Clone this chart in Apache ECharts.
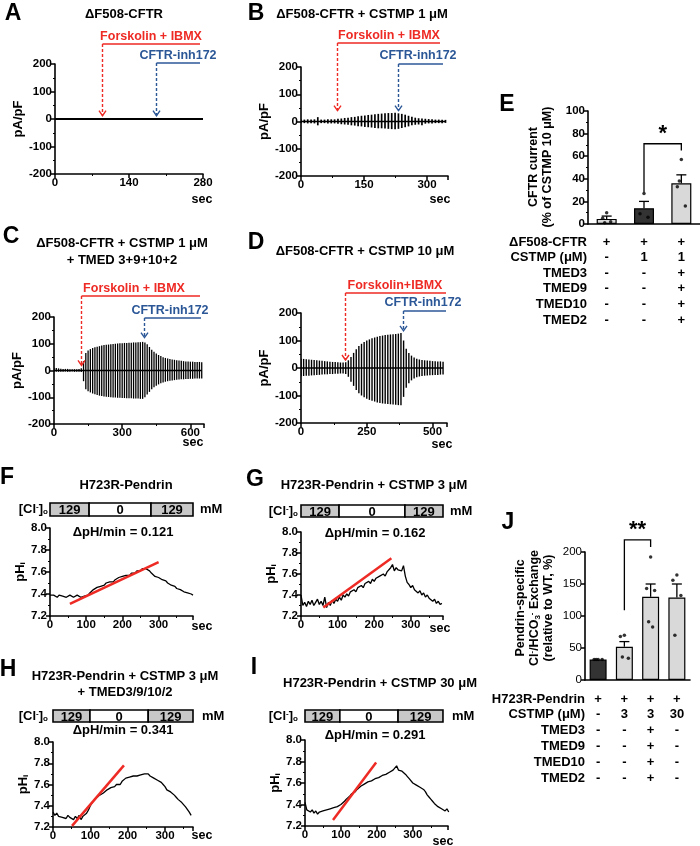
<!DOCTYPE html>
<html>
<head>
<meta charset="utf-8">
<script src="https://cdn.jsdelivr.net/npm/echarts@6.0.0/dist/echarts.min.js"></script>
<style>
html, body { margin: 0; padding: 0; background: #fff; }
#main { width: 700px; height: 846px; }
</style>
</head>
<body>
<div id="main"></div>
<script>
var FONT = '"Liberation Sans", Arial, sans-serif';
var RED = '#ee2a24';
var BLUE = '#2b5797';
var LIGHT = '#d9d9d9';
var DARK = '#333333';
var BOXGRAY = '#c8c8c8';

// ---------- patch clamp traces (A-D): one ramp pulse every step sec ----------
var traceA = [[0, 0], [280, 0]];
var eventsA = [89, 191];          // forskolin+IBMX, CFTR-inh172 (sec)

var stepB = 8;
var pulseB_pos = [7,7,8,7,8,16,7,7,8,8,8,10,11,13,14,16,17,19,21,22,24,25,27,28,29,30,31,31,32,30,28,25,21,17,14,12,11,10,9,8,7,7,6,6];
var pulseB_neg = [6,6,7,6,7,14,6,6,7,7,7,8,10,11,12,14,15,17,18,20,21,22,24,25,25,26,27,28,28,27,24,21,18,14,12,11,14,8,7,7,6,6,6,5];
var eventsB = [86, 231];

var stepC = 10;
var pulseC_pos = [10,9,8,7,6,6,6,5,5,5,5,6,8,
  35,65,75,80,84,87,89,91,93,95,96,97,98,99,100,101,102,102,103,103,104,104,105,105,106,106,107,
  105,98,88,78,70,64,58,54,50,47,45,43,41,40,38,37,36,35,34,34,33,33,32,32,32,31];
var pulseC_neg = [5,5,5,5,5,4,5,5,4,5,5,5,6,
  40,70,78,82,86,89,92,94,95,97,98,99,100,101,101,102,102,103,103,104,104,104,105,105,105,106,106,
  100,90,80,70,63,57,52,48,45,42,40,38,37,36,35,34,33,33,32,32,31,31,30,30,30,30];
var eventsC = [119, 396];

var stepD = 10;
var pulseD_pos = [34,33,32,31,30,29,28,27,26,25,24,23,22,22,21,20,20,21,
  28,40,55,68,80,88,95,100,104,108,111,114,116,118,120,121,122,123,124,125,127,
  100,70,55,45,38,34,31,29,28,27,26,25,25,24,24,23];
var pulseD_neg = [30,29,28,28,27,26,25,25,24,23,23,22,22,21,21,20,20,22,
  32,50,65,80,92,100,106,112,116,119,122,125,127,129,130,131,132,133,134,135,135,
  105,72,55,45,38,34,31,29,28,27,26,26,25,25,24,24];
var eventsD = [168, 389];

// ---------- panel E ----------
var eGroups = ['dF508', 'dF508+CSTMP1', 'dF508+CSTMP1+TMED'];
var eMeans = [4.5, 14, 36];
var eSem = [2.5, 6, 7.5];
var ePoints = [[10, 5, 2, 1], [27, 9, 6], [57, 33, 16, 38]];
var eRows = ['ΔF508-CFTR', 'CSTMP (μM)', 'TMED3', 'TMED9', 'TMED10', 'TMED2'];
var eMarks = [['+', '+', '+'], ['-', '1', '1'], ['-', '-', '+'], ['-', '-', '+'], ['-', '-', '+'], ['-', '-', '+']];

// ---------- pH traces (F-I), sampled every 5 sec ----------
var phStep = 5;
var phF = [7.39,7.38,7.39,7.38,7.37,7.39,7.38,7.38,7.39,7.37,7.38,7.39,7.38,7.37,7.38,7.39,7.38,7.37,7.38,7.38,7.38,
  7.39,7.41,7.42,7.44,7.44,7.46,7.45,7.47,7.48,7.48,7.50,7.49,7.51,7.52,7.51,7.53,7.53,7.55,7.54,7.56,7.56,7.57,7.58,7.57,7.59,7.60,7.59,7.61,7.62,7.61,7.63,7.64,7.63,
  7.62,7.61,7.59,7.58,7.56,7.56,7.55,7.54,7.53,7.52,7.52,7.50,7.50,7.48,7.47,7.47,7.45,7.45,7.44,7.44,7.42,7.42,7.41,7.40,7.40,7.39];
var phG = [7.40,7.30,7.33,7.29,7.34,7.31,7.35,7.30,7.33,7.36,7.31,7.34,7.30,7.38,7.28,7.33,7.30,7.35,7.32,7.36,
  7.34,7.38,7.35,7.40,7.38,7.41,7.39,7.43,7.42,7.45,7.43,7.47,7.46,7.49,7.47,7.51,7.50,7.53,7.51,7.55,
  7.53,7.56,7.55,7.58,7.57,7.60,7.58,7.62,7.61,7.66,7.69,7.63,7.66,7.64,7.65,7.63,7.68,7.58,7.52,7.50,
  7.47,7.49,7.45,7.46,7.42,7.44,7.40,7.42,7.38,7.40,7.37,7.38,7.34,7.36,7.32,7.34,7.31,7.32];
var phH = [7.34,7.31,7.33,7.30,7.31,7.29,7.30,7.28,7.31,7.29,7.30,7.27,7.30,7.28,7.31,7.27,7.30,7.29,7.33,7.36,
  7.40,7.43,7.44,7.47,7.48,7.50,7.51,7.52,7.53,7.55,7.55,7.57,7.58,7.58,7.60,7.61,7.60,7.63,7.64,7.66,
  7.65,7.67,7.66,7.68,7.67,7.68,7.67,7.69,7.68,7.70,7.69,7.70,7.68,7.67,7.66,7.65,7.64,7.63,7.62,7.60,
  7.58,7.55,7.54,7.53,7.52,7.50,7.48,7.46,7.45,7.43,7.42,7.39,7.38,7.34,7.31];
var phI = [7.42,7.35,7.36,7.33,7.35,7.32,7.34,7.31,7.33,7.32,7.34,7.33,7.35,7.34,7.36,7.35,7.37,7.36,7.38,7.37,
  7.40,7.41,7.43,7.45,7.46,7.48,7.50,7.51,7.52,7.54,7.55,7.57,7.58,7.59,7.60,7.61,7.61,7.62,7.63,7.64,
  7.64,7.65,7.66,7.67,7.67,7.68,7.69,7.70,7.71,7.72,7.73,7.76,7.72,7.73,7.71,7.70,7.68,7.66,7.64,7.63,
  7.60,7.59,7.58,7.57,7.56,7.55,7.54,7.52,7.49,7.47,7.45,7.43,7.41,7.40,7.38,7.37,7.36,7.35,7.34,7.36,7.33];
var fitF = [[55, 7.31], [300, 7.69]];
var fitG = [[61, 7.28], [247, 7.75]];
var fitH = [[51, 7.21], [190, 7.78]];
var fitI = [[78, 7.256], [198, 7.79]];
var rateF = '0.121', rateG = '0.162', rateH = '0.341', rateI = '0.291';
var clLevels = [129, 0, 129];
var clF = [0, 108, 279, 395];
var clG = [0, 104, 284, 388];
var clH = [0, 99, 255, 375];
var clI = [0, 97, 259, 384];

// ---------- panel J ----------
var jGroups = ['H723R', 'H723R+CSTMP3', 'H723R+CSTMP3+TMED', 'H723R+CSTMP30'];
var jMeans = [32, 52, 130, 129];
var jSem = [0, 8, 20, 21];
var jPoints = [[32, 32, 32, 32], [70, 68, 34, 36], [192, 143, 140, 91, 83], [164, 156, 132, 70]];
var jRows = ['H723R-Pendrin', 'CSTMP (μM)', 'TMED3', 'TMED9', 'TMED10', 'TMED2'];
var jMarks = [['+', '+', '+', '+'], ['-', '3', '3', '30'], ['-', '-', '+', '-'], ['-', '-', '+', '-'], ['-', '-', '+', '-'], ['-', '-', '+', '-']];

// grid boxes: A B C D E F G H I J
var boxes = [
  {left: 55, top: 64, width: 148, height: 110},
  {left: 301, top: 67, width: 147, height: 109},
  {left: 54, top: 317, width: 150, height: 107},
  {left: 301, top: 313, width: 146, height: 110},
  {left: 588, top: 111, width: 112, height: 113},
  {left: 50, top: 528, width: 143, height: 88},
  {left: 301, top: 532, width: 142, height: 84},
  {left: 53, top: 742, width: 140, height: 85},
  {left: 305, top: 740, width: 143, height: 86},
  {left: 585, top: 552, width: 105, height: 128}
];

function labelStyle(weight) {
  return {color: '#000', fontFamily: FONT, fontWeight: weight || 'bold', fontSize: 11.5, margin: 3};
}
function axisBase(g) {
  return {
    gridIndex: g,
    axisLine: {show: true, onZero: false, lineStyle: {color: '#000', width: 1.6}},
    axisTick: {show: true, length: 4, lineStyle: {color: '#000', width: 1.5}},
    splitLine: {show: false},
    axisLabel: labelStyle()
  };
}
function valueX(g, max, interval) {
  var a = axisBase(g);
  a.type = 'value'; a.min = 0; a.max = max; a.interval = interval;
  a.minorTick = {show: true, splitNumber: 2, length: 2, lineStyle: {color: '#000', width: 1}};
  a.axisLabel.showMaxLabel = (max % interval === 0);
  return a;
}
function currentY(g) {
  var a = axisBase(g);
  a.type = 'value'; a.min = -200; a.max = 200; a.interval = 100;
  a.minorTick = {show: true, splitNumber: 2, length: 2, lineStyle: {color: '#000', width: 1}};
  a.name = 'pA/pF'; a.nameLocation = 'middle'; a.nameGap = 28;
  a.nameTextStyle = {color: '#000', fontFamily: FONT, fontWeight: 'bold', fontSize: 13};
  return a;
}
function phY(g) {
  var a = axisBase(g);
  a.type = 'value'; a.min = 7.2; a.max = 8.0; a.interval = 0.2;
  a.minorTick = {show: true, splitNumber: 2, length: 2, lineStyle: {color: '#000', width: 1}};
  a.axisLabel.formatter = function (v) { return v.toFixed(1); };
  a.name = '{m|pH}{s|i}'; a.nameLocation = 'middle'; a.nameGap = 23;
  a.nameTextStyle = {color: '#000', fontFamily: FONT, fontWeight: 'bold', fontSize: 13,
    rich: {m: {fontFamily: FONT, fontWeight: 'bold', fontSize: 13},
           s: {fontFamily: FONT, fontWeight: 'bold', fontSize: 8, verticalAlign: 'bottom'}}};
  return a;
}
function catX(g, cats) {
  var a = axisBase(g);
  a.type = 'category'; a.data = cats;
  a.axisTick = {show: false}; a.axisLabel = {show: false};
  return a;
}
function barY(g, max, interval, minor, weight) {
  var a = axisBase(g);
  a.type = 'value'; a.min = 0; a.max = max; a.interval = interval;
  a.axisLabel = labelStyle(weight);
  a.minorTick = {show: minor, splitNumber: 2, length: 2, lineStyle: {color: '#000', width: 1}};
  return a;
}

function pulseSeries(g, step, pos, neg, width) {
  return {type: 'custom', xAxisIndex: g, yAxisIndex: g, clip: true,
    encode: {x: 0, y: 1},
    renderItem: function (params, api) {
      var top = api.coord([api.value(0), api.value(1)]);
      var bot = api.coord([api.value(0), -api.value(2)]);
      return {type: 'line', shape: {x1: top[0], y1: top[1], x2: bot[0], y2: bot[1]},
        style: {stroke: '#000', lineWidth: width}};
    },
    data: pos.map(function (v, i) { return [i * step, v, neg[i]]; })};
}
function lineSeries(g, data, color, width) {
  return {type: 'line', xAxisIndex: g, yAxisIndex: g, data: data, symbol: 'none', silent: true,
    lineStyle: {color: color, width: width}, z: width > 2 ? 4 : 3};
}
function phSeries(g, arr) {
  return lineSeries(g, arr.map(function (v, i) { return [i * phStep, v]; }), '#000', 1.3);
}
function errItem(params, api) {
  var i = api.value(0), m = api.value(1), s = api.value(2);
  if (!s) return null;
  var b = api.coord([i, m]), t = api.coord([i, m + s]);
  return {type: 'group', children: [
    {type: 'line', shape: {x1: b[0], y1: b[1], x2: t[0], y2: t[1]}, style: {stroke: '#000', lineWidth: 1.3}},
    {type: 'line', shape: {x1: t[0] - 5, y1: t[1], x2: t[0] + 5, y2: t[1]}, style: {stroke: '#000', lineWidth: 1.3}}
  ]};
}
function barSeries(g, means, colors, width) {
  return {type: 'bar', xAxisIndex: g, yAxisIndex: g, barWidth: width, silent: true,
    data: means.map(function (v, i) {
      return {value: v, itemStyle: {color: colors[i], borderColor: '#000', borderWidth: 1.2}};
    })};
}
function errSeries(g, means, sem) {
  return {type: 'custom', xAxisIndex: g, yAxisIndex: g, renderItem: errItem, z: 5,
    encode: {x: 0, y: 1},
    data: means.map(function (v, i) { return [i, v, sem[i]]; })};
}
var dotOffsets = [0, -4, 4, -2, 2];
function dotSeries(g, pts) {
  var d = [];
  pts.forEach(function (grp, i) {
    grp.forEach(function (v, j) {
      d.push({value: [i, v], symbolOffset: [dotOffsets[j % dotOffsets.length], 0]});
    });
  });
  return {type: 'scatter', xAxisIndex: g, yAxisIndex: g, data: d, symbolSize: 3.5, z: 6,
    itemStyle: {color: '#000'}, silent: true};
}

var chart = echarts.init(document.getElementById('main'));

chart.setOption({
  backgroundColor: '#fff',
  animation: false,
  grid: boxes,
  xAxis: [
    valueX(0, 280, 140), valueX(1, 350, 150), valueX(2, 660, 300), valueX(3, 555, 250),
    catX(4, eGroups),
    valueX(5, 395, 100), valueX(6, 388, 100), valueX(7, 375, 100), valueX(8, 398, 100),
    catX(9, jGroups)
  ],
  yAxis: [
    currentY(0), currentY(1), currentY(2), currentY(3),
    barY(4, 100, 20, true, 'bold'),
    phY(5), phY(6), phY(7), phY(8),
    barY(9, 200, 50, false, 'normal')
  ],
  series: [
    lineSeries(0, traceA, '#000', 2),
    lineSeries(1, [[0, 0], [344, 0]], '#000', 1.6),
    pulseSeries(1, stepB, pulseB_pos, pulseB_neg, 1.7),
    lineSeries(2, [[0, 0], [650, 0]], '#000', 1.5),
    pulseSeries(2, stepC, pulseC_pos, pulseC_neg, 1.3),
    lineSeries(3, [[0, 0], [540, 0]], '#000', 1.6),
    pulseSeries(3, stepD, pulseD_pos, pulseD_neg, 1.4),
    barSeries(4, eMeans, [LIGHT, DARK, LIGHT], 20),
    errSeries(4, eMeans, eSem),
    dotSeries(4, ePoints),
    phSeries(5, phF), lineSeries(5, fitF, RED, 2.5),
    phSeries(6, phG), lineSeries(6, fitG, RED, 2.5),
    phSeries(7, phH), lineSeries(7, fitH, RED, 2.5),
    phSeries(8, phI), lineSeries(8, fitI, RED, 2.5),
    barSeries(9, jMeans, [DARK, LIGHT, LIGHT, LIGHT], 17),
    errSeries(9, jMeans, jSem),
    dotSeries(9, jPoints)
  ]
});

// ---------- annotations ----------
function px(g, x, y) { return chart.convertToPixel({xAxisIndex: g, yAxisIndex: g}, [x, y]); }
function label(x, y, s, size, extra, rot) {
  var el = {type: 'text', x: x, y: y, silent: true, z: 20, style: Object.assign({
    text: s, fill: '#000', fontFamily: FONT, fontWeight: 'bold', fontSize: size || 12,
    align: 'center', verticalAlign: 'middle'
  }, extra || {})};
  if (rot) el.rotation = rot;
  return el;
}
function eventArrow(g, t, tipV, lineY, lineEndX, color, s, tx, ty) {
  var p = px(g, t, tipV), x = Math.round(p[0]) + 0.5, tip = p[1];
  return [
    {type: 'line', z: 20, shape: {x1: x, y1: lineY, x2: lineEndX, y2: lineY}, style: {stroke: color, lineWidth: 1.6}},
    {type: 'line', z: 20, shape: {x1: x, y1: lineY, x2: x, y2: tip}, style: {stroke: color, lineWidth: 1.4, lineDash: [3, 2]}},
    {type: 'polyline', z: 20, shape: {points: [[x - 3.5, tip - 5], [x, tip], [x + 3.5, tip - 5]]},
      style: {stroke: color, lineWidth: 1.4, fill: null}},
    label(tx, ty, s, 12.5, {fill: color})
  ];
}
var clRich = {
  sup: {fontFamily: FONT, fontWeight: 'bold', fontSize: 8, verticalAlign: 'top'},
  sub: {fontFamily: FONT, fontWeight: 'bold', fontSize: 8, verticalAlign: 'bottom'}
};
function clBox(g, times, yTop, h, labelRight, mmLeft) {
  var els = [];
  for (var i = 0; i < 3; i++) {
    var x1 = px(g, times[i], 7.5)[0], x2 = px(g, times[i + 1], 7.5)[0];
    els.push({type: 'rect', z: 15, shape: {x: x1, y: yTop, width: x2 - x1, height: h},
      style: {fill: clLevels[i] > 0 ? BOXGRAY : '#fff', stroke: '#000', lineWidth: 1.6}});
    els.push(label((x1 + x2) / 2, yTop + h / 2 + 1, String(clLevels[i]), 13));
  }
  els.push(label(labelRight, yTop + h / 2, '[Cl{sup|-}]{sub|o}', 13, {align: 'right', rich: clRich}));
  els.push(label(mmLeft, yTop + h / 2, 'mM', 13, {align: 'left'}));
  return els;
}
function bracket(g, i1, i2, v1, vTop, v2) {
  var a = px(g, i1, v1), b = px(g, i1, vTop), c = px(g, i2, vTop), d = px(g, i2, v2);
  return {type: 'polyline', z: 20, shape: {points: [a, b, c, d]}, style: {stroke: '#000', lineWidth: 1.3, fill: null}};
}
function star(g, i1, i2, v, s) {
  var a = px(g, i1, v), b = px(g, i2, v);
  return label((a[0] + b[0]) / 2, a[1] - 10, s, 22);
}
function table(g, rows, marks, labelRight, y0, dy) {
  var els = [];
  rows.forEach(function (r, k) {
    var y = y0 + k * dy;
    els.push(label(labelRight, y, r, 13, {align: 'right'}));
    marks[k].forEach(function (m, i) {
      els.push(label(px(g, i, 0)[0], y, m, 13));
    });
  });
  return els;
}

var G = [];
// panel letters
[['A', 13, 14], ['B', 256, 14], ['C', 11, 237], ['D', 256, 243], ['E', 507, 105],
 ['F', 7, 478], ['G', 255, 480], ['H', 8, 670], ['I', 254, 668], ['J', 508, 523]].forEach(function (l) {
  G.push(label(l[1], l[2], l[0], 23));
});
// titles
G.push(label(124, 14, 'ΔF508-CFTR', 13));
G.push(label(362, 14, 'ΔF508-CFTR + CSTMP 1 μM', 13));
G.push(label(122, 243, 'ΔF508-CFTR + CSTMP 1 μM', 13));
G.push(label(122, 260, '+ TMED 3+9+10+2', 13));
G.push(label(365, 251, 'ΔF508-CFTR + CSTMP 10 μM', 13));
G.push(label(126, 485, 'H723R-Pendrin', 13));
G.push(label(374, 485, 'H723R-Pendrin + CSTMP 3 μM', 13));
G.push(label(125, 676, 'H723R-Pendrin + CSTMP 3 μM', 13));
G.push(label(125, 692, '+ TMED3/9/10/2', 13));
G.push(label(380, 683, 'H723R-Pendrin + CSTMP 30 μM', 13));
// sec labels
[[202, 200], [440, 200], [193, 443], [442, 445], [202, 627], [440, 629], [202, 836], [443, 842]].forEach(function (s) {
  G.push(label(s[0], s[1], 'sec', 12.5));
});
// drug application arrows
G = G.concat(eventArrow(0, eventsA[0], 12, 44, 200, RED, 'Forskolin + IBMX', 151, 37));
G = G.concat(eventArrow(0, eventsA[1], 12, 63, 200, BLUE, 'CFTR-inh172', 178, 56));
G = G.concat(eventArrow(1, eventsB[0], 40, 43, 440, RED, 'Forskolin + IBMX', 389, 36));
G = G.concat(eventArrow(1, eventsB[1], 40, 64, 443, BLUE, 'CFTR-inh172', 418, 56));
G = G.concat(eventArrow(2, eventsC[0], 19, 296, 200, RED, 'Forskolin + IBMX', 134, 289));
G = G.concat(eventArrow(2, eventsC[1], 123, 318, 201, BLUE, 'CFTR-inh172', 170, 311));
G = G.concat(eventArrow(3, eventsD[0], 29, 293, 446, RED, 'Forskolin+IBMX', 395, 286));
G = G.concat(eventArrow(3, eventsD[1], 135, 311, 446, BLUE, 'CFTR-inh172', 423, 303));
// chloride protocol boxes and rates
G = G.concat(clBox(5, clF, 503, 13, 48, 200));
G = G.concat(clBox(6, clG, 505, 12, 298, 450));
G = G.concat(clBox(7, clH, 710, 12, 48, 202));
G = G.concat(clBox(8, clI, 710, 12, 298, 452));
G.push(label(123, 532, 'ΔpH/min = ' + rateF, 13));
G.push(label(375, 533, 'ΔpH/min = ' + rateG, 13));
G.push(label(123, 730, 'ΔpH/min = ' + rateH, 13));
G.push(label(375, 735, 'ΔpH/min = ' + rateI, 13));
// E
G.push(label(541, 167, 'CFTR current\n(% of CSTMP 10 μM)', 12.5, {lineHeight: 14}, Math.PI / 2));
G.push(bracket(4, 1, 2, 28, 71, 65));
G.push(star(4, 1, 2, 71, '*'));
G = G.concat(table(4, eRows, eMarks, 587, 242, 15.6));
// J
G.push(label(535, 608, 'Pendrin-specific\nCl{sup|-}/HCO{sub|3}{sup|-} Exchange\n(relative to WT, %)', 12.5,
  {lineHeight: 14, rich: clRich}, Math.PI / 2));
G.push(bracket(9, 1, 2, 109, 219, 208));
G.push(star(9, 1, 2, 219, '**'));
G = G.concat(table(9, jRows, jMarks, 585, 699, 15.8));

chart.setOption({graphic: {elements: G}});
</script>
</body>
</html>
